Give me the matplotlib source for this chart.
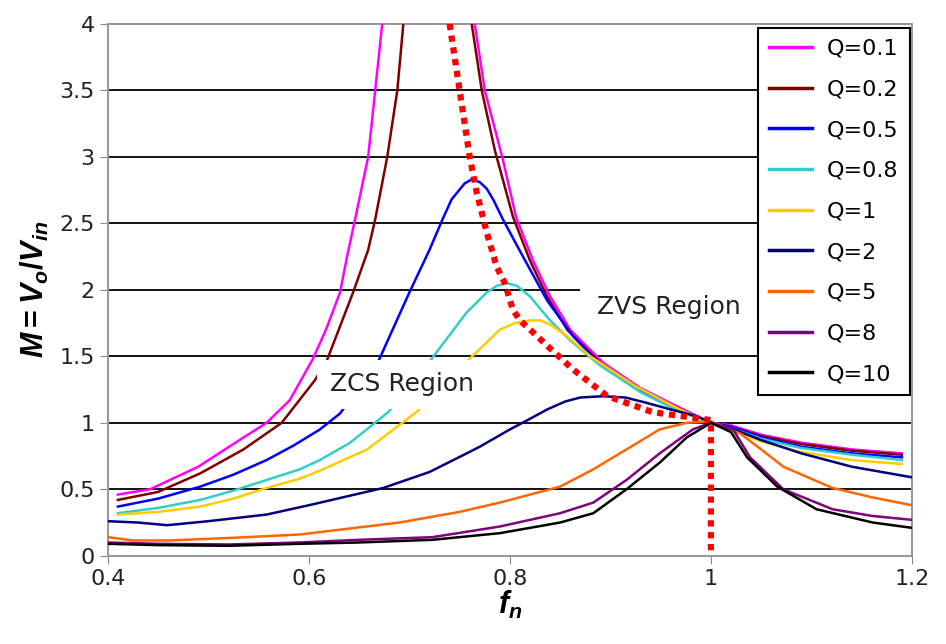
import matplotlib
matplotlib.use('Agg')
import matplotlib.pyplot as plt

plt.rcParams['font.family'] = ['DejaVu Sans']
plt.rcParams['mathtext.fontset'] = 'custom'
plt.rcParams['mathtext.it'] = 'Liberation Sans:italic:bold'
plt.rcParams['mathtext.rm'] = 'Liberation Sans:bold'
plt.rcParams['mathtext.bf'] = 'Liberation Sans:bold'

# values (fn, M)
fn_q01 = [0.41, 0.442, 0.49, 0.531, 0.558, 0.581, 0.604, 0.617, 0.631, 0.638, 0.646, 0.659, 0.666, 0.673,
          None,
          0.765, 0.775, 0.793, 0.806, 0.823, 0.84, 0.86, 0.873, 0.893, 0.93, 0.97, 1.0, 1.02, 1.05, 1.09, 1.14, 1.19]
m_q01 = [0.46, 0.50, 0.67, 0.87, 1.0, 1.17, 1.48, 1.70, 1.98, 2.25, 2.53, 3.0, 3.5, 4.0,
         None,
         4.0, 3.5, 2.98, 2.55, 2.22, 1.95, 1.70, 1.60, 1.45, 1.26, 1.11, 1.0, 0.98, 0.91, 0.85, 0.80, 0.77]

fn_q02 = [0.41, 0.45, 0.492, 0.535, 0.573, 0.606, 0.618, 0.644, 0.659, 0.666, 0.678, 0.688, 0.694,
          None,
          0.762, 0.772, 0.785, 0.803, 0.82, 0.837, 0.857, 0.87, 0.89, 0.929, 0.969, 1.0, 1.02, 1.05, 1.09, 1.14, 1.19]
m_q02 = [0.42, 0.48, 0.62, 0.80, 1.0, 1.32, 1.47, 1.98, 2.30, 2.53, 3.0, 3.5, 4.0,
         None,
         4.0, 3.5, 3.05, 2.55, 2.22, 1.95, 1.70, 1.60, 1.45, 1.25, 1.10, 1.0, 0.97, 0.90, 0.84, 0.79, 0.76]

fn_q05 = [0.41, 0.45, 0.492, 0.525, 0.558, 0.585, 0.611, 0.631, 0.669, 0.70, 0.72, 0.733, 0.742, 0.755,
          0.762, 0.77, 0.777, 0.784, 0.793, 0.813, 0.837, 0.863, 0.89, 0.93, 0.97, 1.0, 1.02, 1.05, 1.09,
          1.14, 1.19]
m_q05 = [0.37, 0.43, 0.52, 0.61, 0.72, 0.83, 0.95, 1.07, 1.46, 1.98, 2.30, 2.53, 2.68, 2.80,
         2.83, 2.81, 2.76, 2.67, 2.53, 2.25, 1.92, 1.65, 1.44, 1.24, 1.09, 1.0, 0.97, 0.89, 0.82,
         0.77, 0.74]

fn_q08 = [0.41, 0.45, 0.492, 0.525, 0.558, 0.591, 0.611, 0.641, 0.679, 0.72, 0.757, 0.777, 0.787,
          0.797, 0.807, 0.82, 0.84, 0.86, 0.89, 0.93, 0.97, 1.0, 1.02, 1.05, 1.09, 1.14, 1.19]
m_q08 = [0.32, 0.36, 0.42, 0.49, 0.57, 0.65, 0.72, 0.85, 1.08, 1.46, 1.83, 1.98, 2.03,
         2.05, 2.03, 1.95, 1.77, 1.62, 1.43, 1.23, 1.08, 1.0, 0.96, 0.88, 0.81, 0.76, 0.72]

fn_q1 = [0.41, 0.45, 0.492, 0.525, 0.558, 0.591, 0.611, 0.658, 0.707, 0.757, 0.79, 0.805, 0.82, 0.83,
         0.84, 0.857, 0.88, 0.926, 0.969, 1.0, 1.02, 1.05, 1.09, 1.14, 1.19]
m_q1 = [0.31, 0.33, 0.37, 0.43, 0.51, 0.58, 0.64, 0.80, 1.08, 1.46, 1.70, 1.75, 1.77, 1.77,
        1.74, 1.65, 1.50, 1.27, 1.10, 1.0, 0.95, 0.86, 0.78, 0.72, 0.69]

fn_q2 = [0.40, 0.43, 0.459, 0.50, 0.558, 0.60, 0.674, 0.72, 0.757, 0.77, 0.80, 0.82, 0.837, 0.855,
         0.87, 0.893, 0.915, 0.936, 0.96, 0.986, 1.0, 1.02, 1.05, 1.09, 1.14, 1.2]
m_q2 = [0.26, 0.25, 0.23, 0.26, 0.31, 0.38, 0.51, 0.63, 0.77, 0.82, 0.95, 1.03, 1.10, 1.16,
        1.19, 1.20, 1.19, 1.15, 1.10, 1.05, 1.0, 0.96, 0.87, 0.77, 0.67, 0.59]

fn_q5 = [0.40, 0.425, 0.46, 0.524, 0.591, 0.69, 0.75, 0.79, 0.85, 0.883, 0.916, 0.949, 0.976, 1.0,
         1.029, 1.05, 1.072, 1.121, 1.16, 1.2]
m_q5 = [0.14, 0.115, 0.115, 0.135, 0.16, 0.25, 0.33, 0.40, 0.52, 0.65, 0.80, 0.95, 1.0, 1.01,
        0.92, 0.80, 0.67, 0.51, 0.44, 0.38]

fn_q8 = [0.40, 0.45, 0.52, 0.591, 0.65, 0.723, 0.79, 0.85, 0.883, 0.916, 0.949, 0.982, 1.0,
         1.022, 1.039, 1.072, 1.121, 1.16, 1.2]
m_q8 = [0.10, 0.09, 0.085, 0.10, 0.12, 0.14, 0.22, 0.32, 0.40, 0.57, 0.77, 0.95, 1.0,
        0.95, 0.74, 0.50, 0.35, 0.30, 0.27]

fn_q10 = [0.40, 0.45, 0.52, 0.591, 0.65, 0.723, 0.79, 0.85, 0.883, 0.916, 0.949, 0.976, 1.0,
          1.02, 1.036, 1.066, 1.105, 1.161, 1.2]
m_q10 = [0.09, 0.08, 0.075, 0.09, 0.10, 0.12, 0.17, 0.25, 0.32, 0.50, 0.70, 0.89, 1.0,
         0.93, 0.74, 0.52, 0.35, 0.25, 0.21]

fn_border = [0.74, 0.75, 0.76, 0.767, 0.777, 0.787, 0.795, 0.803, 0.81, 0.823, 0.837, 0.863, 0.897,
             0.942, 1.0, 1.0]
m_border = [4.0, 3.5, 3.0, 2.73, 2.43, 2.17, 2.05, 1.85, 1.77, 1.68, 1.58, 1.40, 1.20,
            1.08, 1.02, 0.0]

labels = ['Q=0.1', 'Q=0.2', 'Q=0.5', 'Q=0.8', 'Q=1', 'Q=2', 'Q=5', 'Q=8', 'Q=10']
colors = ['#ff00ff', '#800000', '#0000ff', '#33cccc', '#ffcc00', '#000080', '#ff6600', '#800080', '#000000']
xs = [fn_q01, fn_q02, fn_q05, fn_q08, fn_q1, fn_q2, fn_q5, fn_q8, fn_q10]
ys = [m_q01, m_q02, m_q05, m_q08, m_q1, m_q2, m_q5, m_q8, m_q10]

fig = plt.figure(figsize=(9.46, 6.44), dpi=100)
ax = fig.add_axes([0.114, 0.137, 0.850, 0.826])

for v in [0.5, 1, 1.5, 2, 2.5, 3, 3.5]:
    ax.axhline(v, color='black', lw=1.3, zorder=1)

for x, y, c, l in zip(xs, ys, colors, labels):
    x = [float('nan') if a is None else a for a in x]
    y = [float('nan') if a is None else a for a in y]
    ax.plot(x, y, color=c, lw=1.8, label=l, zorder=3)

ax.plot(fn_border, m_border, color='#ff0000', lw=4.5, linestyle=(0, (1.0, 0.9)), zorder=4)

ax.text(0.621, 1.29, 'ZCS Region', fontsize=18, color='#222222', va='center', ha='left',
        bbox=dict(facecolor='white', edgecolor='none', pad=9), zorder=5)
ax.text(0.8866, 1.87, 'ZVS Region', fontsize=18, color='#222222', va='center', ha='left',
        bbox=dict(facecolor='white', edgecolor='none', pad=12), zorder=5)

ax.set_xlim(0.4, 1.2)
ax.set_ylim(0, 4)
ax.set_xticks([0.4, 0.6, 0.8, 1.0, 1.2])
ax.set_xticklabels(['0.4', '0.6', '0.8', '1', '1.2'])
ax.set_yticks([0, 0.5, 1, 1.5, 2, 2.5, 3, 3.5, 4])
ax.set_yticklabels(['0', '0.5', '1', '1.5', '2', '2.5', '3', '3.5', '4'])
ax.tick_params(axis='both', labelsize=16, direction='out', length=6, color='#888888', labelcolor='#222222')
for s in ax.spines.values():
    s.set_color('#999999')
    s.set_linewidth(1.5)

ax.set_xlabel(r'$f_n$', fontsize=22, labelpad=0)
ax.set_ylabel(r'$M\mathrm{=}V_o/V_{in}$', fontsize=22, labelpad=6)

leg = ax.legend(loc='upper right', bbox_to_anchor=(0.9975, 0.9925), borderaxespad=0,
                fontsize=16, frameon=True, fancybox=False, edgecolor='black', framealpha=1,
                handlelength=1.9, labelspacing=0.93, borderpad=0.5, handletextpad=0.7)
leg.get_frame().set_linewidth(1.5)
for h in leg.get_lines():
    h.set_linewidth(2.5)

fig.savefig('out.png', dpi=100)
